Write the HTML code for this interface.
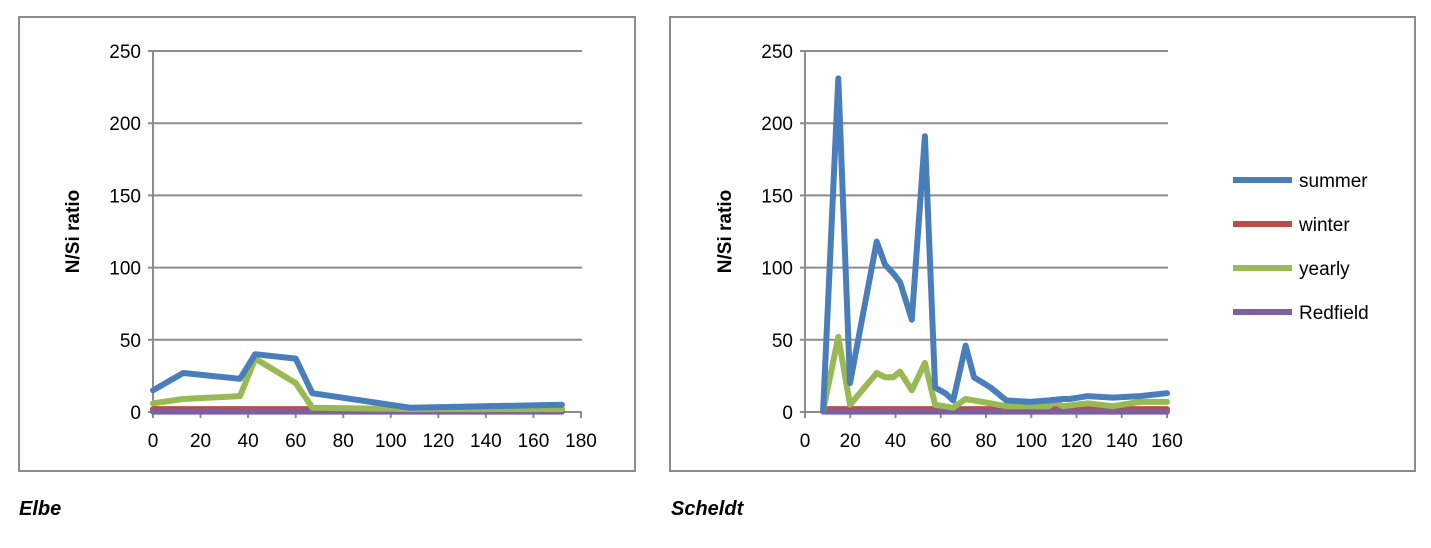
<!DOCTYPE html>
<html><head><meta charset="utf-8"><style>
body{margin:0;background:#fff;width:1431px;height:543px;overflow:hidden;font-family:"Liberation Sans",sans-serif}
svg text{font-family:"Liberation Sans",sans-serif}
</style></head><body>
<svg id="svg" width="1431" height="543" xmlns="http://www.w3.org/2000/svg">
<rect x="19" y="17" width="616" height="454" fill="none" stroke="#8c8c8c" stroke-width="2"/>
<rect x="670" y="17" width="745" height="454" fill="none" stroke="#8c8c8c" stroke-width="2"/>
<text x="19" y="515" font-size="20" font-weight="bold" font-style="italic">Elbe</text>
<text x="671" y="515" font-size="20" font-weight="bold" font-style="italic">Scheldt</text>
<g id="elbe"></g>
<g id="scheldt"></g>
<g id="legend"></g>
</svg>
<script>
const seriesNames=["summer","winter","yearly","Redfield"];
const seriesColors=["#4a7ebb","#be4b48","#98b954","#7d60a0"];
const yTicks=[0,50,100,150,200,250];
const elbeXTicks=[0,20,40,60,80,100,120,140,160,180];
const scheldtXTicks=[0,20,40,60,80,100,120,140,160];
const elbeSummerX=[0,12.7,36.6,43,60,67,108,172];
const elbeSummerY=[15,27,23,40,37,13,3,5];
const elbeYearlyX=[0,12.7,36.6,43,60,67,108,172];
const elbeYearlyY=[6,9,11,37,20,3,2,2];
const elbeWinterX=[0,172];
const elbeWinterY=[2,2];
const elbeRedfieldX=[0,172];
const elbeRedfieldY=[0.3,0.3];
const schSummerX=[8,14.7,19.9,31.7,35.4,39,42,47.2,53,57.5,62,65.5,71,74.7,82,89,99.5,108,114,117,125,136,148,160];
const schSummerY=[1,231,20,118,102,96,90,64,191,17,13,8,46,24,17,8,7,8,9,9,11,10,11,13];
const schYearlyX=[8,14.7,19.9,31.7,35.4,39,42,47.2,53,57.5,65.5,71,82,89,99.5,108,110,114,125,136,148,160];
const schYearlyY=[1,52,5,27,24,24,28,15,34,5,3,9,6,4,4,4,7,4,6,4,7,7];
const schWinterX=[8,160];
const schWinterY=[2,2];
const schRedfieldX=[8,160];
const schRedfieldY=[0.3,0.3];
const NS="http://www.w3.org/2000/svg";
function mk(tag,attrs,parent,text){const e=document.createElementNS(NS,tag);for(const k in attrs)e.setAttribute(k,attrs[k]);if(text!==undefined)e.textContent=text;parent.appendChild(e);return e;}
function chart(gid,x0,x1,xmax,xTicks,series,prefix){
  const g=document.getElementById(gid);
  const y0=412,y1=51,ymax=250;
  const sx=v=>x0+(x1-x0)*v/xmax, sy=v=>y0-(y0-y1)*v/ymax;
  yTicks.forEach(t=>{
    const l=mk('line',{x1:x0-5,x2:x1+1,y1:sy(t),y2:sy(t),stroke:'#8c8c8c','stroke-width':2},g);
    
    
    const tx=mk('text',{x:x0-12,y:sy(t)+7,'font-size':19,'text-anchor':'end'},g,String(t));
    
    
  });
  const ax=mk('line',{x1:x0,x2:x0,y1:y1,y2:y0+6,stroke:'#8c8c8c','stroke-width':2},g);
  
  
  xTicks.forEach(t=>{
    const l=mk('line',{x1:sx(t),x2:sx(t),y1:y0,y2:y0+6,stroke:'#8c8c8c','stroke-width':2},g);
    
    
    const tx=mk('text',{x:sx(t),y:y0+35,'font-size':19,'text-anchor':'middle'},g,String(t));
    
    
  });
  const yt=mk('text',{x:0,y:0,'font-size':19,'font-weight':'bold','text-anchor':'middle',transform:`translate(${x0-74},${(y0+y1)/2}) rotate(-90)`},g,'N/Si ratio');
  
  
  [1,3,2,0].forEach(i=>{
    const s=series[i];
    const pts=s[0].map((x,j)=>sx(x).toFixed(1)+','+sy(s[1][j]).toFixed(1)).join(' ');
    const p=mk('polyline',{points:pts,fill:'none',stroke:seriesColors[i],'stroke-width':6,'stroke-linejoin':'round','stroke-linecap':'round'},g);
    
    
  });
}
chart('elbe',153,581,180,elbeXTicks,[[elbeSummerX,elbeSummerY],[elbeWinterX,elbeWinterY],[elbeYearlyX,elbeYearlyY],[elbeRedfieldX,elbeRedfieldY]],'elbe');
chart('scheldt',805,1167,160,scheldtXTicks,[[schSummerX,schSummerY],[schWinterX,schWinterY],[schYearlyX,schYearlyY],[schRedfieldX,schRedfieldY]],'scheldt');
const lg=document.getElementById('legend');
seriesNames.forEach((n,i)=>{
  const y=180+i*44;
  const l=mk('line',{x1:1233,x2:1292,y1:y,y2:y,stroke:seriesColors[i],'stroke-width':6},lg);
  
  
  const t=mk('text',{x:1299,y:y+7,'font-size':19},lg,n);
  
  
});
</script>
</body></html>
